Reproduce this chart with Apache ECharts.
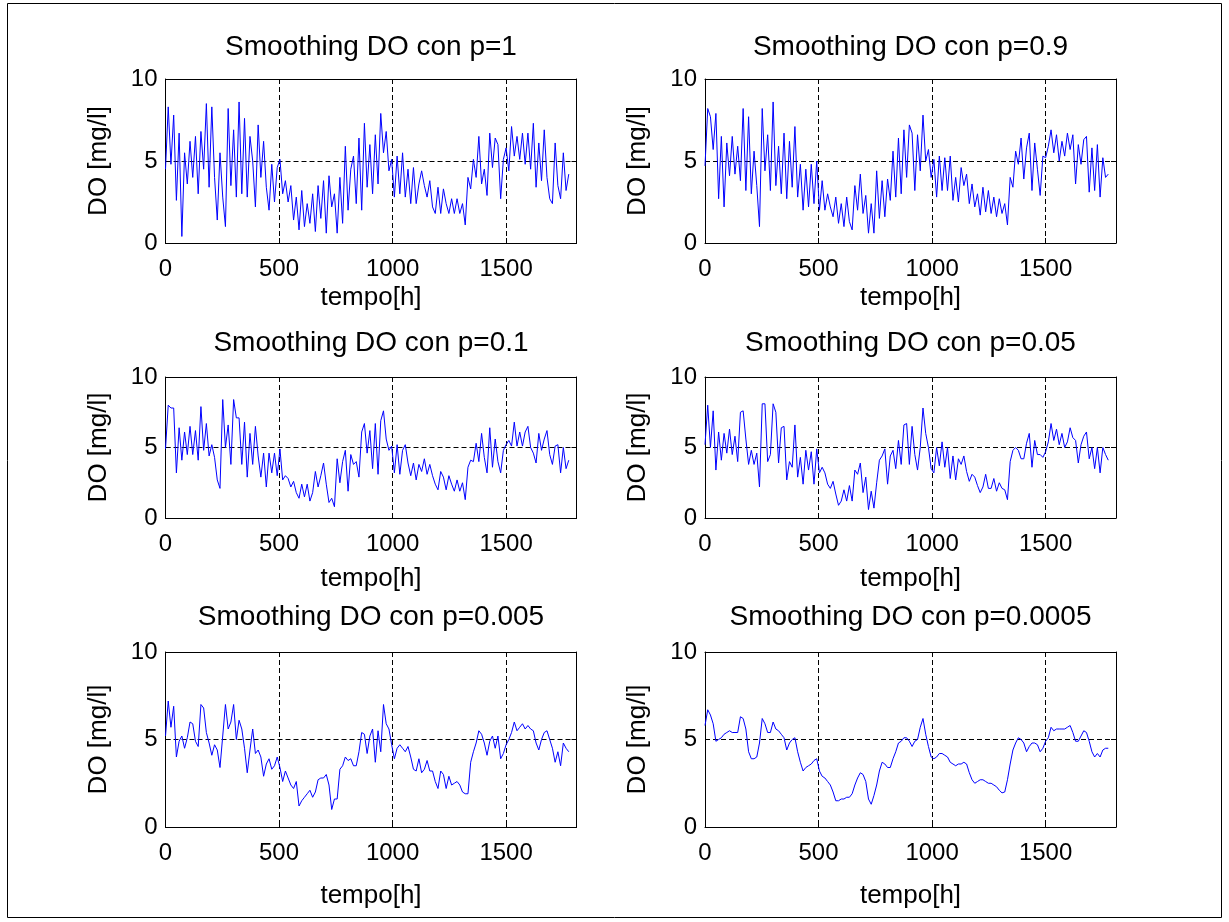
<!DOCTYPE html>
<html><head><meta charset="utf-8">
<script src="https://cdn.jsdelivr.net/npm/echarts/dist/echarts.min.js"></script>
<style>html,body{margin:0;padding:0;background:#fff}#c{width:1229px;height:922px}</style>
</head><body><div id="c"></div>
<script>
// time axis (hours), sampled every 12 h
const hours = [
0,12,24,36,48,60,72,84,96,108,
120,132,144,156,168,180,192,204,216,228,
240,252,264,276,288,300,312,324,336,348,
360,372,384,396,408,420,432,444,456,468,
480,492,504,516,528,540,552,564,576,588,
600,612,624,636,648,660,672,684,696,708,
720,732,744,756,768,780,792,804,816,828,
840,852,864,876,888,900,912,924,936,948,
960,972,984,996,1008,1020,1032,1044,1056,1068,
1080,1092,1104,1116,1128,1140,1152,1164,1176,1188,
1200,1212,1224,1236,1248,1260,1272,1284,1296,1308,
1320,1332,1344,1356,1368,1380,1392,1404,1416,1428,
1440,1452,1464,1476,1488,1500,1512,1524,1536,1548,
1560,1572,1584,1596,1608,1620,1632,1644,1656,1668,
1680,1692,1704,1716,1728,1740,1752,1764,1776];

const xTicks = [0, 500, 1000, 1500];
const yTicks = [0, 5, 10];

const titles = [
  'Smoothing DO con p=1', 'Smoothing DO con p=0.9',
  'Smoothing DO con p=0.1', 'Smoothing DO con p=0.05',
  'Smoothing DO con p=0.005', 'Smoothing DO con p=0.0005'];

const doP1 = [
4.5,8.3,4.8,7.8,2.6,6.7,0.4,5.5,3.6,6.2,
4.0,6.5,3.0,6.8,4.5,8.5,3.4,8.3,4.0,1.4,
5.5,2.8,1.0,8.2,3.5,6.9,2.8,8.6,3.0,7.6,
2.8,6.5,5.0,2.2,7.2,4.0,6.2,3.4,2.0,4.8,
2.5,4.6,5.1,3.0,3.8,2.5,3.5,1.4,2.8,0.8,
3.2,1.0,2.4,1.2,3.0,0.7,3.5,1.5,3.8,0.6,
4.1,2.2,3.0,0.6,4.0,1.2,5.9,2.0,4.5,5.3,
2.4,6.4,2.0,7.3,3.4,6.0,3.0,6.6,3.6,7.9,
5.5,6.8,4.4,5.1,2.8,5.3,3.0,5.5,2.8,4.5,
2.4,4.6,2.4,3.6,4.4,3.5,2.8,3.8,2.2,1.8,
3.4,1.8,3.3,2.4,1.8,2.7,1.8,2.7,1.8,2.4,
1.1,4.0,3.3,5.1,4.0,6.5,3.6,4.5,2.9,6.7,
4.6,6.4,6.0,2.7,5.1,5.8,4.4,7.1,5.3,6.5,
5.1,6.7,4.8,6.7,4.5,7.3,3.4,6.1,3.8,6.9,
4.0,2.7,2.4,6.1,3.5,2.7,5.5,3.2,4.2];

const doP09 = [
4.7,8.2,7.7,5.7,7.9,2.7,6.5,2.2,6.1,4.1,
6.5,4.2,5.9,3.8,8.2,3.2,7.7,3.0,5.6,3.5,
1.0,8.2,4.4,6.6,3.2,8.6,3.5,5.9,3.0,6.7,
2.7,6.2,3.4,7.1,2.8,4.8,2.0,4.5,2.2,4.8,
2.4,5.0,2.0,3.8,2.0,3.0,2.2,1.6,2.8,1.2,
2.4,1.0,2.8,1.3,0.8,3.5,2.0,4.2,1.8,2.9,
0.6,2.4,0.6,4.4,1.5,3.8,1.6,3.9,2.6,5.6,
2.8,6.4,3.0,6.9,4.0,7.2,6.7,3.2,6.6,4.4,
7.8,5.0,5.7,4.0,5.1,2.8,5.3,3.2,5.2,3.2,
5.3,2.6,4.0,2.5,4.6,3.5,4.2,2.4,3.6,2.2,
3.0,1.7,3.4,1.9,3.2,1.8,2.8,1.6,2.7,1.8,
2.4,1.1,4.0,3.4,5.6,4.8,6.4,3.9,5.8,6.7,
3.2,6.1,4.5,2.9,5.3,5.2,5.9,6.9,5.5,6.6,
5.0,6.2,5.3,6.7,5.7,6.6,3.6,6.0,4.8,6.3,
6.5,3.1,5.8,3.2,6.0,2.8,5.2,4.0,4.2];

const doP01 = [
4.9,8.0,7.8,7.8,3.2,6.4,4.1,6.1,4.5,6.5,
4.5,6.2,4.1,7.9,4.8,6.7,4.4,5.2,4.3,2.7,
2.1,8.4,5.0,6.6,3.8,8.4,7.1,7.1,3.8,6.8,
2.9,6.0,3.8,6.5,4.4,2.9,4.6,2.2,4.6,3.2,
4.6,3.0,4.9,2.7,3.0,2.8,2.2,2.6,1.8,1.4,
2.4,1.5,2.4,1.2,1.8,3.3,2.2,3.0,3.9,2.4,
1.1,1.4,0.8,4.2,2.5,4.0,4.8,1.9,4.5,3.8,
4.0,2.9,6.1,6.7,4.6,6.2,3.5,6.7,3.1,6.9,
7.6,5.6,4.8,5.1,3.2,5.2,3.1,4.8,5.2,3.9,
3.0,3.9,2.7,3.8,3.3,4.2,3.1,3.8,3.0,2.4,
2.0,3.3,2.9,2.0,3.0,2.4,1.9,2.7,1.9,2.5,
1.3,3.6,4.1,4.0,5.3,4.0,6.0,4.3,3.2,6.4,
3.6,5.6,4.0,3.2,4.8,5.2,5.5,5.1,6.8,5.1,
6.1,5.1,6.1,6.5,5.0,4.6,3.9,6.0,4.8,5.6,
6.2,4.5,3.8,5.1,5.2,3.2,5.0,3.5,4.1];

const doP005 = [
5.2,8.0,5.0,7.6,3.4,6.1,4.1,6.0,4.6,6.3,
4.5,5.8,4.0,7.5,7.6,5.6,3.8,4.8,3.8,4.6,
2.2,8.1,8.1,4.0,4.5,8.1,7.5,3.9,6.4,6.5,
2.7,4.0,3.6,6.6,2.9,4.3,2.4,4.8,3.4,4.7,
2.4,4.9,3.2,3.6,3.2,2.4,2.1,2.6,1.7,0.9,
1.2,2.0,1.2,2.3,1.2,3.4,3.1,3.9,1.8,2.9,
0.6,1.9,0.7,2.5,4.1,4.4,4.9,2.4,4.4,4.8,
3.5,5.5,3.8,6.6,6.7,3.8,6.5,4.5,3.4,5.0,
7.8,6.0,5.0,3.5,3.2,5.0,3.7,5.4,3.6,5.0,
2.8,4.4,2.7,4.2,3.8,4.4,3.3,2.6,3.1,2.9,
2.3,1.8,2.2,3.1,2.1,2.1,2.8,1.9,2.5,2.1,
2.0,1.3,4.0,4.8,5.0,4.8,4.2,4.2,5.3,6.0,
3.6,5.5,4.5,4.5,4.3,4.7,5.4,6.7,5.5,6.3,
5.2,6.0,5.0,5.4,6.4,5.7,5.5,3.9,5.2,5.8,
6.1,4.2,5.0,3.5,5.0,3.2,5.0,4.5,4.1];

const doP0005 = [
5.2,7.2,5.7,6.9,4.0,4.9,5.2,4.5,5.1,6.0,
5.9,4.9,4.6,7.0,6.8,5.4,4.8,4.1,4.7,4.4,
3.4,5.2,7.0,5.6,6.0,7.0,5.0,6.1,5.6,4.5,
3.1,4.4,5.6,4.2,4.4,4.0,2.9,3.6,3.9,3.3,
3.5,4.0,3.4,2.6,3.2,2.8,2.4,2.2,2.6,1.2,
1.5,1.7,1.9,2.1,1.7,2.0,2.7,2.8,2.8,3.0,
2.4,1.0,1.6,1.6,3.3,3.5,4.0,3.8,3.9,3.5,
3.5,4.3,5.4,5.3,4.2,5.2,5.6,3.7,5.5,4.3,
7.0,5.9,5.6,4.7,3.9,4.5,4.7,4.5,4.3,4.6,
4.0,3.3,3.2,3.9,3.1,3.3,3.8,3.2,3.2,2.6,
2.2,3.2,3.0,2.2,2.9,2.4,2.5,2.6,2.4,2.0,
1.9,1.9,3.7,4.3,4.8,5.5,5.3,4.8,4.1,4.9,
5.2,4.5,5.2,3.9,4.2,4.7,5.0,5.4,6.0,5.5,
5.7,5.9,5.6,5.8,5.6,5.5,4.8,4.4,5.0,5.4,
5.5,5.0,4.5,3.7,4.3,3.5,4.8,4.5,4.3];

const doP00005 = [
5.8,6.7,6.4,5.9,4.9,5.0,5.1,5.3,5.4,5.5,
5.4,5.4,5.4,6.3,6.2,5.6,4.3,3.9,3.9,4.0,
4.8,6.2,5.9,5.4,5.4,6.0,5.6,5.5,5.3,5.1,
4.4,4.8,5.0,5.1,4.3,3.7,3.2,3.4,3.5,3.6,
3.8,3.9,3.2,2.9,2.8,2.6,2.4,2.0,1.5,1.5,
1.6,1.6,1.7,1.7,1.9,2.4,2.8,3.1,3.0,2.6,
1.6,1.3,1.8,2.4,3.2,3.7,3.6,3.4,3.4,3.9,
4.3,4.8,4.9,5.1,5.1,4.9,4.6,4.9,5.0,5.7,
6.2,5.3,4.6,4.0,3.9,4.0,4.2,4.2,4.1,4.0,
3.7,3.6,3.5,3.6,3.6,3.7,3.6,3.1,2.7,2.5,
2.6,2.7,2.7,2.6,2.5,2.5,2.4,2.3,2.1,1.95,
2.0,2.7,3.6,4.4,4.8,5.1,5.0,4.8,4.3,4.6,
4.8,4.8,4.7,4.3,4.5,4.9,5.1,5.7,5.5,5.6,
5.6,5.6,5.6,5.7,5.8,5.4,4.9,4.9,5.2,5.5,
5.4,4.9,4.3,4.0,4.2,4.0,4.4,4.5,4.5];

const seriesValues = [doP1, doP09, doP01, doP005, doP0005, doP00005];

// ---- layout (pixels) ----
const FONT = '"Liberation Sans", Arial, sans-serif';
const FS_TICK = 24, FS_NAME = 26, FS_TITLE = 28;
const colLeft = [165.5, 705];
const plotW = 411;
const rows = [
  {top: 79, height: 164, titleY: 47, xNameGap: 42, xLabelMargin: 14},
  {top: 377, height: 141, titleY: 343, xNameGap: 48, xLabelMargin: 14},
  {top: 652, height: 175, titleY: 617, xNameGap: 56, xLabelMargin: 14}
];
const X_MAX = 1810;

const grids = [], xAxes = [], yAxes = [], series = [], graphics = [];
for (let i = 0; i < 6; i++) {
  const r = rows[Math.floor(i / 2)];
  const left = colLeft[i % 2];
  grids.push({left: left, top: r.top, width: plotW, height: r.height, containLabel: false});
  const lineCol = {color: '#000', width: 1};
  const dash = {color: '#000', width: 1, type: [5, 3]};
  xAxes.push({
    type: 'value', gridIndex: i, min: 0, max: X_MAX, interval: 500,
    axisLine: {show: true, onZero: false, lineStyle: lineCol},
    axisTick: {show: true, inside: true, length: 5, lineStyle: lineCol},
    axisLabel: {show: true, color: '#000', fontSize: FS_TICK, fontFamily: FONT, margin: r.xLabelMargin,
      showMaxLabel: false,
      formatter: v => (xTicks.indexOf(v) >= 0 ? String(v) : '')},
    splitLine: {show: true, lineStyle: dash},
    name: 'tempo[h]', nameLocation: 'middle', nameGap: r.xNameGap,
    nameTextStyle: {color: '#000', fontSize: FS_NAME, fontFamily: FONT}
  });
  yAxes.push({
    type: 'value', gridIndex: i, min: 0, max: 10, interval: 5,
    axisLine: {show: true, onZero: false, lineStyle: lineCol},
    axisTick: {show: true, inside: true, length: 5, lineStyle: lineCol},
    axisLabel: {show: true, color: '#000', fontSize: FS_TICK, fontFamily: FONT, margin: 8,
      formatter: v => (yTicks.indexOf(v) >= 0 ? String(v) : '')},
    splitLine: {show: true, lineStyle: dash},
    name: 'DO [mg/l]', nameLocation: 'middle', nameGap: 54, nameRotate: 90,
    nameTextStyle: {color: '#000', fontSize: FS_NAME, fontFamily: FONT}
  });
  series.push({
    type: 'line', xAxisIndex: i, yAxisIndex: i, showSymbol: false, symbol: 'none',
    animation: false, silent: true,
    lineStyle: {color: '#0000ff', width: 1},
    data: hours.map((h, k) => [h, seriesValues[i][k]])
  });
  graphics.push({
    type: 'text', x: left + plotW / 2, y: r.titleY, silent: true,
    style: {text: titles[i], fill: '#000', font: FS_TITLE + 'px ' + FONT, align: 'center', verticalAlign: 'middle'}
  });
}
// mirrored box axes (top & right) with inward ticks
for (let i = 0; i < 6; i++) {
  const lineCol = {color: '#000', width: 1};
  xAxes.push({
    type: 'value', gridIndex: i, min: 0, max: X_MAX, interval: 500, position: 'top',
    axisLine: {show: true, onZero: false, lineStyle: lineCol},
    axisTick: {show: true, inside: true, length: 5, lineStyle: lineCol},
    axisLabel: {show: false}, splitLine: {show: false}
  });
  yAxes.push({
    type: 'value', gridIndex: i, min: 0, max: 10, interval: 5, position: 'right',
    axisLine: {show: true, onZero: false, lineStyle: lineCol},
    axisTick: {show: true, inside: true, length: 5, lineStyle: lineCol},
    axisLabel: {show: false}, splitLine: {show: false}
  });
}
// outer figure frame
graphics.push({
  type: 'rect', silent: true, z: 100,
  shape: {x: 7.5, y: 3.5, width: 1214, height: 914},
  style: {fill: 'none', stroke: '#000', lineWidth: 1}
});

const chart = echarts.init(document.getElementById('c'), null, {renderer: 'canvas'});
chart.setOption({
  animation: false,
  backgroundColor: '#fff',
  grid: grids, xAxis: xAxes, yAxis: yAxes, series: series, graphic: graphics
});
</script></body></html>
